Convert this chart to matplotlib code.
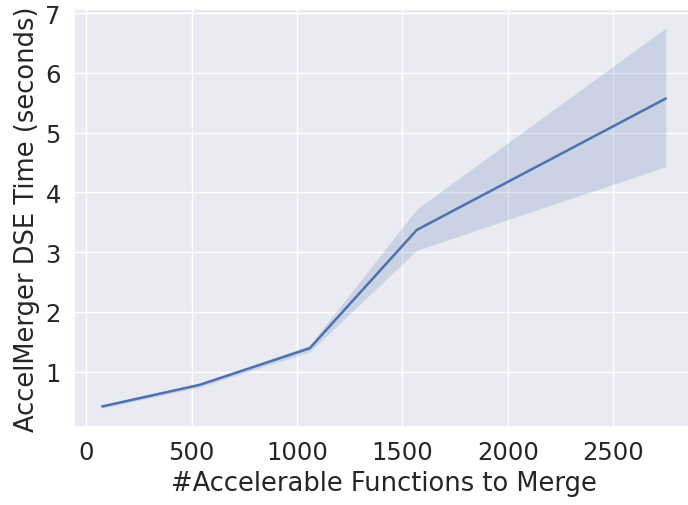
import matplotlib
matplotlib.use("Agg")
import matplotlib.pyplot as plt
import seaborn as sns

sns.set_theme(style="darkgrid")
plt.rcParams['font.family'] = ['DejaVu Sans']

num_functions = [75, 537, 1060, 1568, 2750]
dse_time_mean = [0.416, 0.777, 1.39, 3.37, 5.57]
dse_time_low = [0.39, 0.74, 1.33, 3.03, 4.43]
dse_time_high = [0.44, 0.80, 1.44, 3.72, 6.75]

fig = plt.figure(figsize=(6.88, 5.06), dpi=100)
ax = fig.add_axes([74/688, 78/506, 620/688, 418/506])
color = sns.color_palette()[0]
ax.fill_between(num_functions, dse_time_low, dse_time_high, color=color, alpha=0.2, linewidth=0)
ax.plot(num_functions, dse_time_mean, color=color, linewidth=1.8)
ax.set_xticks([0, 500, 1000, 1500, 2000, 2500])
ax.set_yticks([1, 2, 3, 4, 5, 6, 7])
ax.tick_params(labelsize=17.5)
ax.set_xlabel("#Accelerable Functions to Merge", fontsize=18.5)
ax.set_ylabel("AccelMerger DSE Time (seconds)", fontsize=18.5)
fig.savefig("out.png", dpi=100)
